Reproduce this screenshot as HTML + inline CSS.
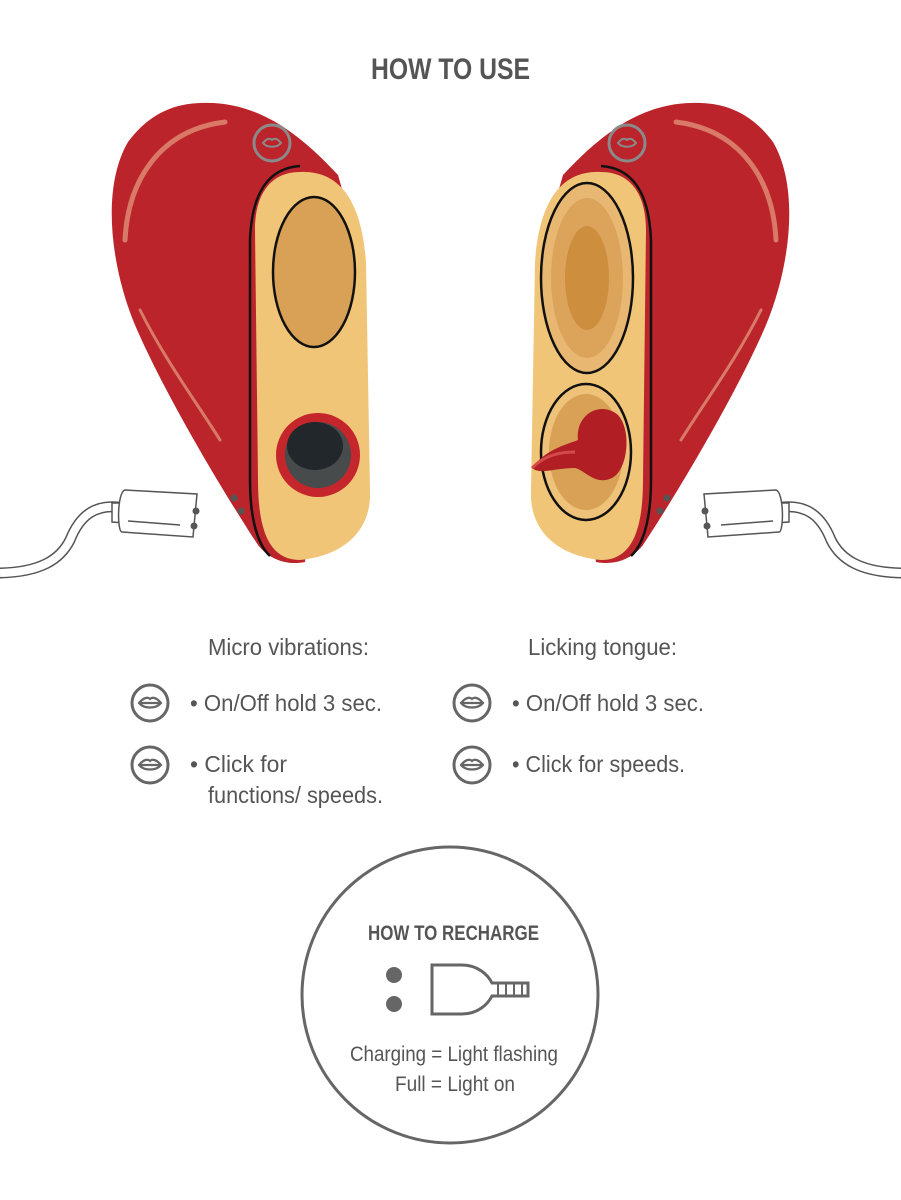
<!DOCTYPE html>
<html><head><meta charset="utf-8"><style>
body{margin:0;background:#fff;width:901px;height:1200px;overflow:hidden}
svg{display:block}
text{font-family:"Liberation Sans Narrow","Liberation Sans",sans-serif;fill:#555}
</style></head><body>
<svg width="901" height="1200" viewBox="0 0 901 1200">
<defs>
<symbol id="lips" viewBox="-20 -20 40 40">
<circle cx="0" cy="0" r="18" fill="none" stroke="#666" stroke-width="3"/>
<path d="M-11,0 C-6,-6 -2,-6 0,-4 C2,-6 6,-6 11,0 C6,6 -6,6 -11,0 Z M-11,0 H11" fill="none" stroke="#666" stroke-width="2.2"/>
</symbol>
<g id="body">
<path d="M200,103 C262,100 305,140 338,175 L348,210 L305,562 C285,566 268,558 258,545 C225,495 165,395 135,325 C112,270 100,190 128,142 C148,115 172,104 200,103 Z" fill="#bb242a"/>
<path d="M125,240 C128,180 160,130 225,122" fill="none" stroke="#d97a68" stroke-width="5" stroke-linecap="round"/>
<path d="M140,310 C165,360 195,400 220,440" fill="none" stroke="#d97a68" stroke-width="3" stroke-linecap="round"/>
<path d="M300,172 C342,170 362,205 366,262 L370,490 C372,532 342,556 300,560 C270,560 258,532 258,480 L255,230 C255,195 270,172 300,172 Z" fill="#f1c577"/>
<path d="M300,166 C270,168 252,190 250,240 L250,480 C250,520 258,545 270,556" fill="none" stroke="#111" stroke-width="2.5"/>
<circle cx="234" cy="498" r="3.5" fill="#555"/><circle cx="241" cy="511" r="3.5" fill="#555"/>
<path d="M0,573 C40,572 60,560 70,540 C80,515 95,505 118,507" fill="none" stroke="#555" stroke-width="11" stroke-linecap="round"/>
<path d="M0,573 C40,572 60,560 70,540 C80,515 95,505 118,507" fill="none" stroke="#fff" stroke-width="8"/>
<g fill="#fff" stroke="#555" stroke-width="1.5">
<path d="M112,503 L126,503 L126,523 L112,522 Z"/>
<path d="M125,490 L197,494 L193,537 L122,532 C117,532 117,492 125,490 Z"/>
<line x1="128" y1="521" x2="180" y2="525"/>
</g>
<circle cx="196" cy="511" r="3.5" fill="#555"/><circle cx="194" cy="526" r="3.5" fill="#555"/>
</g>
</defs>
<text x="371" y="79" font-size="30" font-weight="bold" textLength="159" lengthAdjust="spacingAndGlyphs">HOW TO USE</text>
<use href="#body"/>
<g transform="translate(901,0) scale(-1,1)"><use href="#body"/></g>
<ellipse cx="314" cy="272" rx="41" ry="75" fill="#d8a155" stroke="#111" stroke-width="2.5"/>
<circle cx="318" cy="455" r="42" fill="#c4262c"/>
<circle cx="318" cy="455" r="33" fill="#474b4b"/>
<ellipse cx="315" cy="446" rx="28" ry="24" fill="#22272b"/>
<circle cx="272" cy="143" r="18" fill="none" stroke="#8a8a8a" stroke-width="3"/>
<path d="M263,143 C267,138 270,138 272,140 C274,138 277,138 281,143 C277,148 267,148 263,143Z" fill="none" stroke="#8a8a8a" stroke-width="2"/>
<ellipse cx="587" cy="278" rx="46" ry="95" fill="#e8b872" stroke="#111" stroke-width="2.5"/>
<ellipse cx="587" cy="278" rx="36" ry="80" fill="#dca35b"/>
<ellipse cx="587" cy="278" rx="22" ry="52" fill="#cd8f3e"/>
<ellipse cx="586" cy="452" rx="45" ry="68" fill="#efc27a" stroke="#111" stroke-width="2.5"/>
<ellipse cx="586" cy="452" rx="37" ry="58" fill="#d8a155"/>
<path d="M532,468 C545,450 565,445 578,440 C575,415 600,400 618,415 C632,430 628,470 612,478 C595,486 585,470 575,468 C555,468 540,475 532,468Z" fill="#b11f25"/>
<path d="M532,468 C545,455 560,452 575,452" fill="none" stroke="#d24a4a" stroke-width="3"/>
<circle cx="627" cy="143" r="18" fill="none" stroke="#8a8a8a" stroke-width="3"/>
<path d="M618,143 C622,138 625,138 627,140 C629,138 632,138 636,143 C632,148 622,148 618,143Z" fill="none" stroke="#8a8a8a" stroke-width="2"/>
<g font-size="23">
<text x="208" y="655" textLength="161" lengthAdjust="spacingAndGlyphs">Micro vibrations:</text>
<text x="528" y="655" textLength="149" lengthAdjust="spacingAndGlyphs">Licking tongue:</text>
<text x="190" y="711" textLength="192" lengthAdjust="spacingAndGlyphs">• On/Off hold 3 sec.</text>
<text x="190" y="772" textLength="97" lengthAdjust="spacingAndGlyphs">• Click for</text>
<text x="208" y="803" textLength="175" lengthAdjust="spacingAndGlyphs">functions/ speeds.</text>
<text x="512" y="711" textLength="192" lengthAdjust="spacingAndGlyphs">• On/Off hold 3 sec.</text>
<text x="512" y="772" textLength="173" lengthAdjust="spacingAndGlyphs">• Click for speeds.</text>
</g>
<use href="#lips" x="130" y="683" width="40" height="40"/>
<use href="#lips" x="130" y="745" width="40" height="40"/>
<use href="#lips" x="452" y="683" width="40" height="40"/>
<use href="#lips" x="452" y="745" width="40" height="40"/>
<circle cx="450" cy="995" r="148" fill="none" stroke="#666" stroke-width="3"/>
<text x="368" y="940" font-size="21" font-weight="bold" textLength="171" lengthAdjust="spacingAndGlyphs">HOW TO RECHARGE</text>
<circle cx="394" cy="975" r="8" fill="#666"/><circle cx="394" cy="1004" r="8" fill="#666"/>
<path d="M432,965 H462 C478,965 488,975 492,983 H528 V996 H492 C488,1004 478,1014 462,1014 H432 Z" fill="none" stroke="#666" stroke-width="3"/>
<path d="M498,983 V996 M506,983 V996 M514,983 V996 M522,983 V996" stroke="#666" stroke-width="2"/>
<text x="350" y="1061" font-size="21" textLength="208" lengthAdjust="spacingAndGlyphs">Charging = Light flashing</text>
<text x="395" y="1091" font-size="21" textLength="120" lengthAdjust="spacingAndGlyphs">Full = Light on</text>
</svg>
</body></html>
